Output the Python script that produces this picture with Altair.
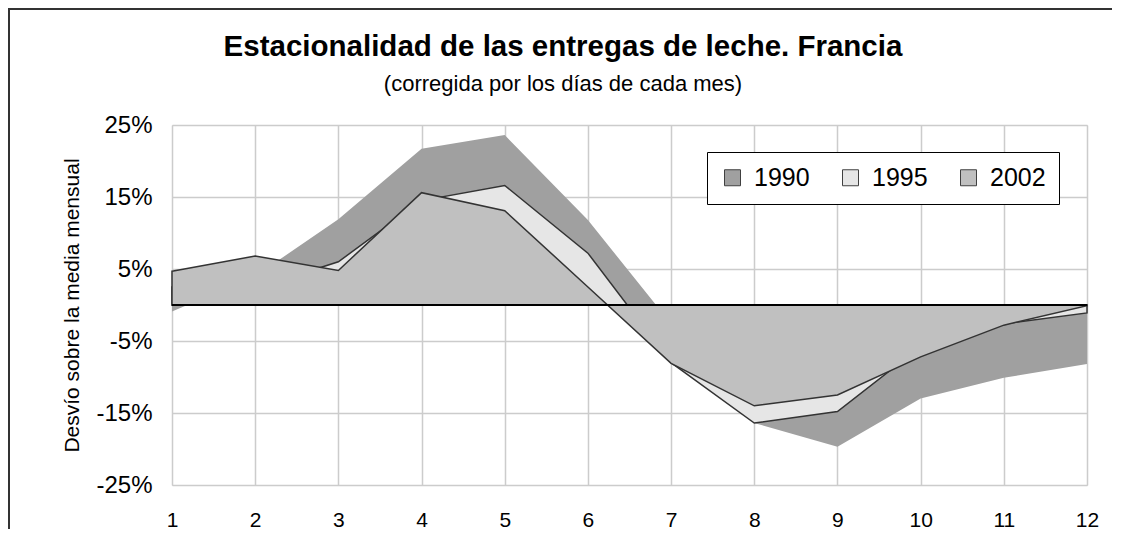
import altair as alt
import pandas as pd

# ---- data ----
months = list(range(1, 13))
v1990 = [-0.9, 4.0, 11.9, 21.7, 23.6, 11.8, -2.6, -16.4, -19.7, -13.0, -10.1, -8.2]
v1995 = [2.5, 2.3, 6.0, 14.5, 16.6, 7.2, -8.0, -16.4, -14.8, -5.8, -2.6, -1.1]
v2002 = [4.7, 6.8, 4.8, 15.6, 13.1, 2.5, -8.1, -14.0, -12.5, -7.2, -2.8, -0.1]
years = ["1990", "1995", "2002"]
fills = ["#a0a0a0", "#e6e6e6", "#c0c0c0"]
y_ticks = [-25, -15, -5, 5, 15, 25]

title_text = "Estacionalidad de las entregas de leche. Francia"
subtitle_text = "(corregida por los días de cada mes)"
y_title = "Desvío sobre la media mensual"

rows = []
for yr, vals in zip(years, [v1990, v1995, v2002]):
    for m, v in zip(months, vals):
        rows.append({"mes": m, "valor": v, "serie": yr})
df = pd.DataFrame(rows)

FONT = "Liberation Sans"
W, H = 915, 360

x = alt.X(
    "mes:Q",
    scale=alt.Scale(domain=[1, 12], nice=False, zero=False),
    axis=alt.Axis(values=months, format="d", title=None, labelFontSize=21,
                  labelPadding=24, ticks=False, domain=False, labelFlush=False,
                  gridColor="#cccccc", gridWidth=1.5, labelColor="black",
                  labelFont=FONT),
)
y = alt.Y(
    "valor:Q",
    scale=alt.Scale(domain=[-25, 25], nice=False),
    axis=alt.Axis(values=y_ticks, labelExpr="datum.value + '%'", title=y_title,
                  labelFontSize=24, labelPadding=20, ticks=False, domain=False,
                  labelFlush=False,
                  gridColor="#cccccc", gridWidth=1.5, labelColor="black",
                  labelFont=FONT, titleFont=FONT, titleFontSize=21,
                  titleFontWeight="normal", titleColor="black",
                  titleAngle=270, titleX=-94, titleY=H / 2,
                  titleAlign="center", titleBaseline="alphabetic"),
)
color = alt.Color(
    "serie:N",
    scale=alt.Scale(domain=years, range=fills),
    legend=alt.Legend(orient="none", legendX=535, legendY=27,
                      direction="horizontal", title=None, symbolType="square",
                      symbolSize=256, symbolStrokeColor="#404040",
                      symbolStrokeWidth=1, symbolOpacity=1,
                      labelFontSize=25, labelFont=FONT, labelColor="black",
                      labelOffset=9, columnPadding=28, padding=13,
                      strokeColor="black", fillColor="white",
                      labelLimit=200),
)

base = alt.Chart(df)

frame = alt.Chart(pd.DataFrame({"a": [0]})).mark_rect(
    fill="transparent", stroke="#333333", strokeWidth=2
).encode(x=alt.value(-163), x2=alt.value(1000), y=alt.value(-116), y2=alt.value(700))

a1990 = base.transform_filter(alt.datum.serie == "1990").mark_area(
    opacity=1).encode(x=x, y=y, color=color)
a1995 = base.transform_filter(alt.datum.serie == "1995").mark_area(
    opacity=1, stroke="#333333", strokeWidth=1.5).encode(x=x, y=y, color=color)
a2002 = base.transform_filter(alt.datum.serie == "2002").mark_area(
    opacity=1, stroke="#333333", strokeWidth=1.5).encode(x=x, y=y, color=color)

zero = alt.Chart(pd.DataFrame({"a": [0]})).mark_rule(
    color="black", strokeWidth=2).encode(y=alt.datum(0))

titles = pd.DataFrame({"t": [title_text]})
subs = pd.DataFrame({"t": [subtitle_text]})
t1 = alt.Chart(titles).mark_text(
    font=FONT, fontSize=29.5, fontWeight="bold", color="black",
    align="center", baseline="alphabetic"
).encode(text="t:N", x=alt.value(391), y=alt.value(-69))
t2 = alt.Chart(subs).mark_text(
    font=FONT, fontSize=22, color="black",
    align="center", baseline="alphabetic"
).encode(text="t:N", x=alt.value(391), y=alt.value(-34))

chart = alt.layer(frame, a1990, a1995, a2002, zero, t1, t2).properties(
    width=W, height=H,
    autosize=alt.AutoSizeParams(type="none"),
    padding={"left": 164, "top": 117, "right": 25, "bottom": 44},
).configure_view(stroke="#808080", strokeWidth=1.5
).configure_legend(strokeWidth=1.5, cornerRadius=0
).configure(font=FONT, background="white")

chart.save("out.html", embed_options={"renderer": "svg", "actions": False})
